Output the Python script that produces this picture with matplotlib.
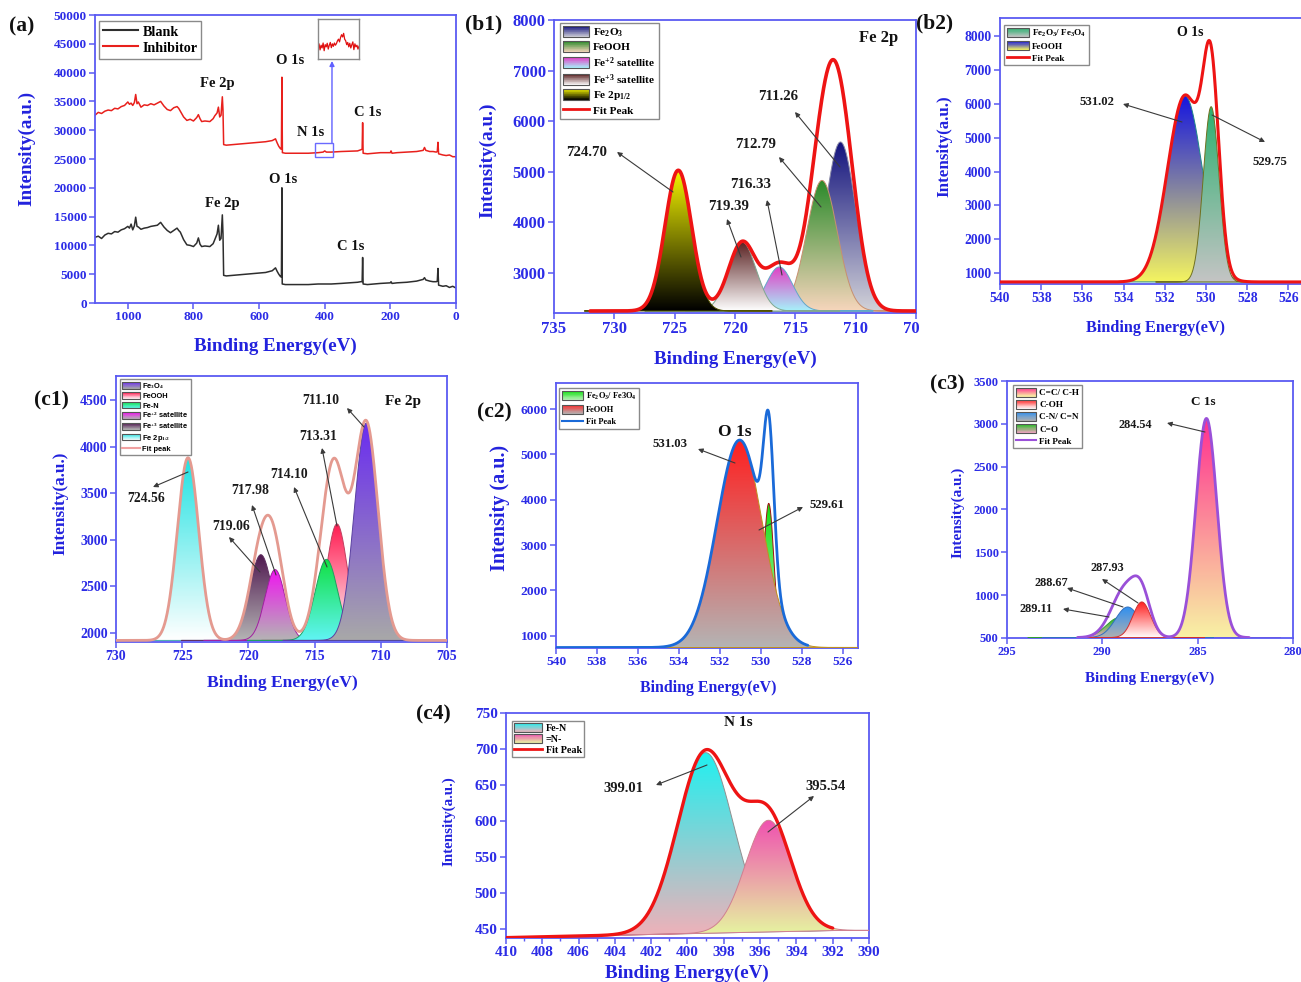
import numpy as np
import matplotlib
matplotlib.use("Agg")
import matplotlib.pyplot as plt
from matplotlib.colors import LinearSegmentedColormap, to_rgb
from matplotlib.patches import PathPatch, Rectangle
from matplotlib.path import Path
from matplotlib.lines import Line2D
from matplotlib.legend_handler import HandlerBase

# ---------------------------------------------------------------- data
# (a) survey spectra: binding energy (eV) and counts
INH_BE = [1100, 1090, 1080, 1070, 1060, 1050, 1040, 1030, 1020, 1010, 1000, 995, 990, 985,
          980, 976, 972, 968, 960, 950, 940, 930, 920, 910, 900, 895, 890, 880, 870, 860,
          850, 845, 840, 830, 820, 810, 800, 790, 785, 780, 775, 765, 750, 740, 735, 728,
          724, 720, 716, 712, 710, 708, 700, 680, 660, 640, 620, 600, 580, 560, 550, 545,
          540, 535, 532, 530.5, 529, 520, 500, 450, 420, 405, 400, 395, 380, 350, 300, 290,
          286, 284.5, 283, 270, 250, 230, 200, 198, 195, 180, 150, 120, 100, 96, 92, 80, 70,
          60, 57, 55, 53, 40, 30, 20, 10, 0]
INH_I = [32600, 33100, 32900, 33300, 33500, 33400, 33800, 33700, 34100, 34300, 34900, 34500,
         34700, 34300, 34800, 36200, 34600, 34900, 34000, 34400, 34300, 34600, 34400, 34700,
         35000, 34600, 34200, 33600, 33400, 33900, 34100, 33800, 33300, 32300, 31700, 31900,
         31600, 32200, 32700, 32000, 31500, 31600, 31500, 32000, 32500, 33000, 34000, 32300,
         32600, 35800, 33500, 27500, 27400, 27500, 27600, 27700, 27800, 27900, 28000, 28200,
         28500, 27800, 27200, 26800, 26700, 39200, 26100, 26000, 26000, 26000, 26100, 26200,
         26400, 26200, 26200, 26300, 26400, 26600, 26700, 31300, 26000, 25900, 26000, 26100,
         26100, 26400, 26000, 26100, 26200, 26300, 26500, 27000, 26500, 26300, 26300, 26200,
         26300, 27900, 25900, 25700, 25600, 25700, 25400, 25400]
BLANK_BE = [1100, 1090, 1080, 1070, 1060, 1050, 1040, 1030, 1020, 1010, 1000, 995, 990, 985,
            980, 976, 972, 968, 960, 950, 940, 930, 920, 910, 900, 895, 890, 880, 870, 860,
            850, 845, 840, 830, 820, 810, 800, 790, 785, 780, 775, 765, 750, 740, 735, 728,
            724, 720, 716, 712, 710, 708, 700, 680, 660, 640, 620, 600, 580, 560, 550, 545,
            540, 535, 532, 530.5, 530, 529.5, 520, 500, 450, 420, 405, 400, 395, 380, 350, 300,
            290, 286, 284.5, 283, 270, 250, 230, 200, 198, 195, 180, 150, 120, 100, 96, 92, 80,
            70, 60, 57, 55, 53, 40, 30, 20, 10, 0]
BLANK_I = [11400, 11600, 11200, 11800, 12100, 12000, 12400, 12300, 12700, 12900, 13300, 13000,
           13700, 12700, 13400, 14900, 13300, 13200, 12800, 13000, 13100, 13300, 13400, 13500,
           14000, 13600, 13200, 12600, 12200, 12600, 13000, 12600, 12300, 11000, 10100, 10000,
           9800, 10400, 11300, 10200, 9800, 9900, 9800, 10300, 11000, 12000, 13500, 10900,
           11200, 15300, 12000, 4800, 4700, 4800, 4900, 5000, 5100, 5200, 5300, 5600, 6100,
           5500, 5000, 4600, 4500, 20000, 9800, 3300, 3200, 3200, 3200, 3300, 3300, 3300, 3300,
           3300, 3400, 3600, 3700, 3700, 7900, 3300, 3200, 3300, 3400, 3500, 3700, 3400, 3500,
           3600, 3800, 4100, 4400, 4000, 3800, 3700, 3700, 3800, 6000, 3100, 2900, 3000, 2700,
           2900, 2600]
# N 1s detail shown in the small inset (normalised counts, 410 -> 390 eV)
INSET_I = [0.42, 0.55, 0.33, 0.50, 0.40, 0.58, 0.30, 0.52, 0.44, 0.57, 0.36, 0.50, 0.60,
           0.41, 0.55, 0.46, 0.58, 0.50, 0.56, 0.66, 0.72, 0.62, 0.78, 0.88, 0.80, 0.93, 0.72,
           0.66, 0.52, 0.60, 0.44, 0.57, 0.40, 0.52, 0.62, 0.34, 0.55, 0.44, 0.50, 0.36, 0.46]

# (b1) Fe 2p, blank
B1_NAMES = ["Fe$_2$O$_3$", "FeOOH", "Fe$^{+2}$ satellite", "Fe$^{+3}$ satellite", "Fe 2p$_{1/2}$"]
B1_CENTER = [711.26, 712.79, 716.33, 719.39, 724.70]
B1_TOP = [5590, 4830, 3120, 3610, 5030]
B1_FWHM = [3.0, 3.0, 2.6, 2.7, 2.6]
B1_BASE = 2250

# (b2) O 1s, blank
B2_NAMES = ["Fe$_2$O$_3$/ Fe$_3$O$_4$", "FeOOH"]
B2_CENTER = [529.75, 531.02]
B2_TOP = [5914, 6240]
B2_FWHM = [0.9, 2.0]
B2_BASE = 745

# (c1) Fe 2p, inhibitor
C1_NAMES = ["Fe$_3$O$_4$", "FeOOH", "Fe-N", "Fe$^{+2}$ satellite", "Fe$^{+3}$ satellite", "Fe 2p$_{1/2}$"]
C1_CENTER = [711.10, 713.31, 714.10, 717.98, 719.06, 724.56]
C1_TOP = [4250, 3170, 2790, 2680, 2840, 3880]
C1_FWHM = [2.1, 1.9, 2.0, 1.8, 2.0, 1.9]
C1_BASE = 1920

# (c2) O 1s, inhibitor
C2_NAMES = ["Fe$_2$O$_3$/ Fe3O$_4$", "FeOOH"]
C2_CENTER = [529.61, 531.03]
C2_TOP = [3919, 5316]
C2_FWHM = [0.6, 2.6]
C2_BASE = 740

# (c3) C 1s, inhibitor
C3_NAMES = ["C=C/ C-H", "C-OH", "C-N/ C=N", "C=O"]
C3_CENTER = [284.54, 287.93, 288.67, 289.11]
C3_TOP = [3063, 921, 862, 738]
C3_FWHM = [1.3, 1.1, 1.5, 1.6]
C3_BASE = 505

# (c4) N 1s, inhibitor
C4_NAMES = ["Fe-N", "=N-"]
C4_CENTER = [399.01, 395.54]
C4_TOP = [695, 601]
C4_FWHM = [3.6, 3.0]
C4_BG_E = [410, 392]
C4_BG_I = [438, 448]

# ---------------------------------------------------------------- style
W, H = 1301, 982
plt.rcParams.update({
    "font.family": ["Liberation Serif", "DejaVu Serif"],
    "font.weight": "bold",
    "axes.labelweight": "bold",
    "mathtext.fontset": "custom",
    "mathtext.rm": "Liberation Serif:bold",
    "mathtext.it": "Liberation Serif:italic:bold",
    "mathtext.bf": "Liberation Serif:bold",
})
SPINE = "#5a5af2"
TICKTXT = "#2c2ce6"
LABELC = "#2222dd"
ARROW = "#3a3a3a"

fig = plt.figure(figsize=(W / 100, H / 100), dpi=100)


def fpx(x, y):
    return (x / W, 1 - y / H)


def add_ax(l, t, r, b, z=0):
    return fig.add_axes([l / W, 1 - b / H, (r - l) / W, (b - t) / H], zorder=z)


def style(ax, xlim, ylim, xt, yt, tsize):
    ax.set_xlim(xlim)
    ax.set_ylim(ylim)
    ax.set_xticks(xt, labels=[str(v) for v in xt])
    ax.set_yticks(yt, labels=[str(v) for v in yt])
    for s in ax.spines.values():
        s.set_color(SPINE)
        s.set_linewidth(1.3)
    ax.tick_params(direction="out", length=4, width=1.1, color=SPINE,
                   labelcolor=TICKTXT, labelsize=tsize, pad=2)


def axis_labels(ax, xl, yl, xpos, ypos, xs, ys):
    ax.set_xlabel(xl, fontsize=xs, color=LABELC, va="center", ha="center")
    ax.set_ylabel(yl, fontsize=ys, color=LABELC, va="center", ha="center")
    ax.xaxis.set_label_coords(*fpx(*xpos), transform=fig.transFigure)
    ax.yaxis.set_label_coords(*fpx(*ypos), transform=fig.transFigure)


def ftext(s, x, y, size, color="#111111", **kw):
    fig.text(*fpx(x, y), s, ha="center", va="center", fontsize=size, color=color, **kw)


def callout(ax, s, tail, head, tpos, size):
    ax.annotate("", xy=fpx(*head), xycoords="figure fraction",
                xytext=fpx(*tail), textcoords="figure fraction",
                arrowprops=dict(arrowstyle="-|>", color=ARROW, lw=0.8,
                                mutation_scale=7, shrinkA=0, shrinkB=0), zorder=30)
    ax.text(*fpx(*tpos), s, transform=fig.transFigure, ha="center", va="center",
            fontsize=size, color="#1a1a1a", zorder=31)


def gauss(x, c, h, w):
    return h * np.exp(-4 * np.log(2) * (x - c) ** 2 / w ** 2)


def grad_fill(ax, x, y, base, top, bottom, z, edge):
    verts = np.concatenate([np.column_stack([x, y]), np.column_stack([x[::-1], base[::-1]])])
    patch = PathPatch(Path(verts), facecolor="none", edgecolor=edge, lw=0.7, zorder=z + 0.5)
    ax.add_patch(patch)
    cmap = LinearSegmentedColormap.from_list("g", [bottom, top])
    grad = np.linspace(0, 1, 256).reshape(-1, 1)
    im = ax.imshow(grad, cmap=cmap, origin="lower", aspect="auto", interpolation="bilinear",
                   extent=[x.min(), x.max(), base.min(), y.max()], zorder=z)
    im.set_clip_path(patch)


def peaks(ax, centers, tops, fwhm, colors, edges, zs, base_fn, fit_range, fit_color, fit_lw):
    for c, t, w, (ct, cb), e, z in zip(centers, tops, fwhm, colors, edges, zs):
        xs = np.linspace(c - 3 * w, c + 3 * w, 400)
        b = base_fn(xs)
        ys = b + gauss(xs, c, t - base_fn(np.array([c]))[0], w)
        grad_fill(ax, xs, ys, b, ct, cb, z, e)
    xf = np.linspace(fit_range[0], fit_range[1], 1500)
    yf = base_fn(xf).astype(float)
    for c, t, w in zip(centers, tops, fwhm):
        yf = yf + gauss(xf, c, t - base_fn(np.array([c]))[0], w)
    ax.plot(xf, yf, color=fit_color, lw=fit_lw, zorder=20, solid_capstyle="round")


def flat(v):
    return lambda x: np.full_like(np.asarray(x, dtype=float), v)


class GradKey:
    def __init__(self, top, bottom):
        self.top, self.bottom = top, bottom


class GradHandler(HandlerBase):
    def create_artists(self, legend, orig, xd, yd, width, height, fontsize, trans):
        c0 = np.array(to_rgb(orig.bottom))
        c1 = np.array(to_rgb(orig.top))
        n = 16
        arts = []
        for i in range(n):
            f = (i + 0.5) / n
            arts.append(Rectangle((-xd, -yd + i * height / n), width, height / n * 1.05,
                                  facecolor=c0 * (1 - f) + c1 * f, edgecolor="none",
                                  transform=trans))
        arts.append(Rectangle((-xd, -yd), width, height, fill=False, edgecolor="#555555",
                              lw=0.8, transform=trans))
        return arts


def legend(ax, handles, labels, pos, size, hl, hh=1.0, ls=0.3, family=None, pad=0.3):
    prop = {"size": size, "weight": "bold"}
    if family:
        prop["family"] = family
    leg = ax.legend(handles, labels, loc="upper left", bbox_to_anchor=fpx(*pos),
                    bbox_transform=fig.transFigure, borderaxespad=0, prop=prop,
                    handlelength=hl, handleheight=hh, labelspacing=ls, handletextpad=0.35,
                    borderpad=pad, fancybox=False, framealpha=1, edgecolor="#8a8a8a",
                    handler_map={GradKey: GradHandler()})
    leg.get_frame().set_linewidth(1.0)
    leg.set_zorder(40)
    return leg


XL = "Binding Energy(eV)"
YL = "Intensity(a.u.)"

# ---------------------------------------------------------------- (a) survey
ax = add_ax(95, 15, 456, 303)
ax.plot(BLANK_BE, BLANK_I, color="#2e2e2e", lw=1.1)
ax.plot(INH_BE, INH_I, color="#e8201c", lw=1.1)
style(ax, (1100, 0), (0, 50000), [1000, 800, 600, 400, 200, 0],
      list(range(0, 50001, 5000)), 9.5)
axis_labels(ax, XL, YL, (275, 346), (27, 148), 13.7, 13.8)
legend(ax, [Line2D([], [], color="#2e2e2e", lw=1.5), Line2D([], [], color="#e8201c", lw=1.5)],
       ["Blank", "Inhibitor"], (99, 21), 10.2, 2.5, ls=0.15, pad=0.25)
ax.add_patch(Rectangle((375, 25350), 55, 2430, fill=False, edgecolor="#6a6aff", lw=1.0, zorder=5))
ax.annotate("", xy=fpx(332, 61), xycoords="figure fraction", xytext=(378, 27780),
            textcoords="data", arrowprops=dict(arrowstyle="-|>", color="#6060ff", lw=1.0,
                                               mutation_scale=7, shrinkA=0, shrinkB=0))
for s, x, y in [("Fe 2p", 217, 84), ("O 1s", 290, 61), ("N 1s", 311, 133), ("C 1s", 368, 113),
                ("O 1s", 283, 179), ("Fe 2p", 222, 204), ("C 1s", 351, 246)]:
    ftext(s, x, y, 10.5)
axi = add_ax(318, 19, 359, 59, z=3)
axi.plot(np.linspace(410, 390, len(INSET_I)), INSET_I, color="#e01010", lw=0.9)
axi.set_xlim(410, 390)
axi.set_ylim(0, 1.45)
axi.set_xticks([])
axi.set_yticks([])
for s in axi.spines.values():
    s.set_color("#8a8a8a")
    s.set_linewidth(1.0)

# ---------------------------------------------------------------- (b1) Fe 2p blank
ax = add_ax(554, 20, 916, 313)
b1_cols = [("#14147e", "#d2d2d8"), ("#2a8a2a", "#f7d6bc"), ("#e23cc4", "#a6f2fa"),
           ("#5a2222", "#ffffff"), ("#f4f400", "#000000")]
b1_edges = ["#8a8aa6", "#c89070", "#60a8c8", "#80a890", "#505000"]
peaks(ax, B1_CENTER, B1_TOP, B1_FWHM, b1_cols, b1_edges, [2, 3, 4, 5, 6], flat(B1_BASE),
      (732, 705), "#ee1414", 2.6)
style(ax, (735, 705), (2210, 8000), [735, 730, 725, 720, 715, 710, 705],
      [3000, 4000, 5000, 6000, 7000, 8000], 12)
axis_labels(ax, XL, YL, (735, 359), (488, 160), 13.7, 13.9)
legend(ax, [GradKey(t, b) for t, b in b1_cols] + [Line2D([], [], color="#ee1414", lw=2)],
       B1_NAMES + ["Fit Peak"], (560, 23), 8.1, 2.3, hh=1.05, ls=0.22)
ftext("Fe 2p", 879, 38, 12)
for s, tail, head, tp in [("724.70", (673, 192), (617, 152), (587, 152)),
                          ("719.39", (741, 257), (727, 219), (729, 206)),
                          ("716.33", (782, 275), (767, 200), (751, 185)),
                          ("712.79", (821, 207), (779, 157), (756, 144)),
                          ("711.26", (840, 167), (795, 112), (778, 97))]:
    callout(ax, s, tail, head, tp, 10.7)

# cover the clipped end of the (b1) energy scale under (b2)
fig.patches.append(Rectangle((919 / W, 1 - 345 / H), (W - 919) / W, 345 / H,
                             transform=fig.transFigure, facecolor="white",
                             edgecolor="none", zorder=1))

# ---------------------------------------------------------------- (b2) O 1s blank
ax = add_ax(1000, 18, 1309, 284, z=2)
b2_cols = [("#2cb070", "#c4c4c4"), ("#1414e0", "#f4f460")]
peaks(ax, B2_CENTER[::-1], B2_TOP[::-1], B2_FWHM[::-1], b2_cols[::-1],
      ["#208888", "#707020"], [2, 3], flat(B2_BASE), (540, 525), "#ee1414", 2.2)
style(ax, (540, 525), (684, 8531), [540, 538, 536, 534, 532, 530, 528, 526],
      list(range(1000, 8001, 1000)), 9.8)
axis_labels(ax, XL, YL, (1155, 328), (944, 146), 11.7, 12.2)
legend(ax, [GradKey(t, b) for t, b in b2_cols] + [Line2D([], [], color="#ee1414", lw=2)],
       B2_NAMES + ["Fit Peak"], (1004, 25), 6.6, 2.4, hh=1.1, ls=0.25)
ftext("O 1s", 1190, 32, 10)
callout(ax, "531.02", (1182, 122), (1123, 104), (1097, 102), 9.2)
callout(ax, "529.75", (1212, 115), (1265, 142), (1270, 162), 9.2)

# ---------------------------------------------------------------- (c1) Fe 2p inhibitor
ax = add_ax(116, 376, 447, 642)
c1_cols = [("#6a2cf0", "#a8a8a8"), ("#ff1a50", "#ffffff"), ("#10e040", "#60f4f4"),
           ("#f014f0", "#b4b4b4"), ("#501850", "#b4b4b4"), ("#20e2e2", "#ffffff")]
c1_edges = ["#5a40a0", "#c04060", "#20a060", "#a020a0", "#603060", "#40a8a8"]
peaks(ax, C1_CENTER, C1_TOP, C1_FWHM, c1_cols, c1_edges, [7, 5, 6, 4, 3, 2], flat(C1_BASE),
      (730, 705), "#e49a90", 2.0)
style(ax, (730, 705), (1903, 4757), [730, 725, 720, 715, 710, 705],
      [2000, 2500, 3000, 3500, 4000, 4500], 10)
axis_labels(ax, XL, YL, (282, 683), (60, 503), 12.6, 12.4)
legend(ax, [GradKey(t, b) for t, b in c1_cols] + [Line2D([], [], color="#f0a0a0", lw=1.5)],
       C1_NAMES + ["Fit peak"], (120, 379), 5.4, 2.4, hh=1.0, ls=0.2,
       family=["Liberation Sans", "DejaVu Sans"], pad=0.25)
ftext("Fe 2p", 403, 402, 11)
for s, tail, head, tp in [("724.56", (188, 472), (153, 487), (146, 499)),
                          ("719.06", (260, 572), (229, 537), (231, 527)),
                          ("717.98", (276, 575), (252, 505), (250, 491)),
                          ("714.10", (327, 567), (294, 487), (289, 475)),
                          ("713.31", (337, 526), (322, 448), (318, 437)),
                          ("711.10", (364, 427), (347, 408), (321, 400))]:
    callout(ax, s, tail, head, tp, 9.8)

# ---------------------------------------------------------------- (c2) O 1s inhibitor
ax = add_ax(556, 383, 858, 648)
c2_cols = [("#12e012", "#c4f2c4"), ("#ff2020", "#b4b4b4")]
ax.plot([540, 525.25], [C2_BASE, C2_BASE], color="#8b1a1a", lw=1.3, zorder=1)
peaks(ax, C2_CENTER, C2_TOP, C2_FWHM, c2_cols, ["#a01010", "#c09020"], [2, 3],
      flat(C2_BASE), (540, 527.7), "#1a6ad8", 2.0)
style(ax, (540, 525.25), (729, 6574), [540, 538, 536, 534, 532, 530, 528, 526],
      [1000, 2000, 3000, 4000, 5000, 6000], 9.7)
axis_labels(ax, XL, "Intensity (a.u.)", (708, 688), (500, 508), 11.4, 14.5)
legend(ax, [GradKey(t, b) for t, b in c2_cols] + [Line2D([], [], color="#1a6ad8", lw=1.5)],
       C2_NAMES + ["Fit Peak"], (559, 388), 6.0, 2.6, hh=1.3, ls=0.35)
ftext("O 1s", 735, 432, 12.5)
callout(ax, "531.03", (735, 463), (698, 449), (670, 444), 9.2)
callout(ax, "529.61", (759, 530), (803, 507), (827, 505), 9.2)

# ---------------------------------------------------------------- (c3) C 1s inhibitor
ax = add_ax(1007, 381, 1293, 638)
c3_cols = [("#ff3090", "#f8f2a4"), ("#ff2020", "#ffffff"), ("#3090f0", "#b0b0b0"),
           ("#20c020", "#f2a4c4")]
ax.plot([290.1, 282.5], [C3_BASE, C3_BASE], color="#2a50d0", lw=1.3, zorder=1)
peaks(ax, C3_CENTER, C3_TOP, C3_FWHM, c3_cols, ["#d06090", "#d03030", "#3070c0", "#30a030"],
      [2, 5, 4, 3], flat(C3_BASE), (291.3, 282.3), "#9a50d8", 2.0)
style(ax, (295, 280), (500, 3500), [295, 290, 285, 280],
      [500, 1000, 1500, 2000, 2500, 3000, 3500], 9)
axis_labels(ax, XL, YL, (1150, 678), (958, 512), 10.9, 11)
legend(ax, [GradKey(t, b) for t, b in c3_cols] + [Line2D([], [], color="#9a50d8", lw=1.5)],
       C3_NAMES + ["Fit Peak"], (1013, 385), 6.6, 2.2, hh=1.1, ls=0.28)
ftext("C 1s", 1203, 402, 9.5)
for s, tail, head, tp in [("284.54", (1205, 432), (1167, 423), (1135, 425)),
                          ("287.93", (1138, 603), (1102, 579), (1107, 568)),
                          ("288.67", (1123, 607), (1067, 588), (1051, 583)),
                          ("289.11", (1109, 617), (1063, 609), (1036, 609))]:
    callout(ax, s, tail, head, tp, 8.8)

# ---------------------------------------------------------------- (c4) N 1s inhibitor
ax = add_ax(506, 713, 869, 938)
c4_bg = lambda x: np.interp(-np.asarray(x, dtype=float), [-C4_BG_E[0], -C4_BG_E[1]], C4_BG_I)
c4_cols = [("#20f0f0", "#f2b0b8"), ("#f050b0", "#e6f5a0")]
peaks(ax, C4_CENTER, C4_TOP, C4_FWHM, c4_cols, ["#909090", "#d08090"], [2, 3], c4_bg,
      (410, 392), "#ee1414", 2.4)
style(ax, (410, 390), (437.5, 750), list(range(410, 389, -2)), [450, 500, 550, 600, 650, 700, 750], 11)
ax.set_xticks(np.arange(409, 390, -2), minor=True)
ax.tick_params(which="minor", direction="out", length=2.5, width=1, color=SPINE)
axis_labels(ax, XL, YL, (687, 973), (449, 821), 13.8, 10.8)
legend(ax, [GradKey(t, b) for t, b in c4_cols] + [Line2D([], [], color="#ee1414", lw=2)],
       C4_NAMES + ["Fit Peak"], (512, 721), 7.3, 2.8, hh=1.0, ls=0.1, pad=0.2)
ftext("N 1s", 738, 723, 11)
callout(ax, "399.01", (707, 765), (656, 785), (623, 788), 10.5)
callout(ax, "395.54", (768, 832), (814, 796), (826, 786), 10.5)

# ---------------------------------------------------------------- panel tags
for s, x, y in [("(a)", 22, 26), ("(b1)", 484, 24), ("(b2)", 935, 23), ("(c1)", 51, 400),
                ("(c2)", 494, 412), ("(c3)", 947, 384), ("(c4)", 433, 714)]:
    ftext(s, x, y, 15.5, color="#111111", zorder=5)

fig.savefig("out.png", dpi=100, facecolor="white")
